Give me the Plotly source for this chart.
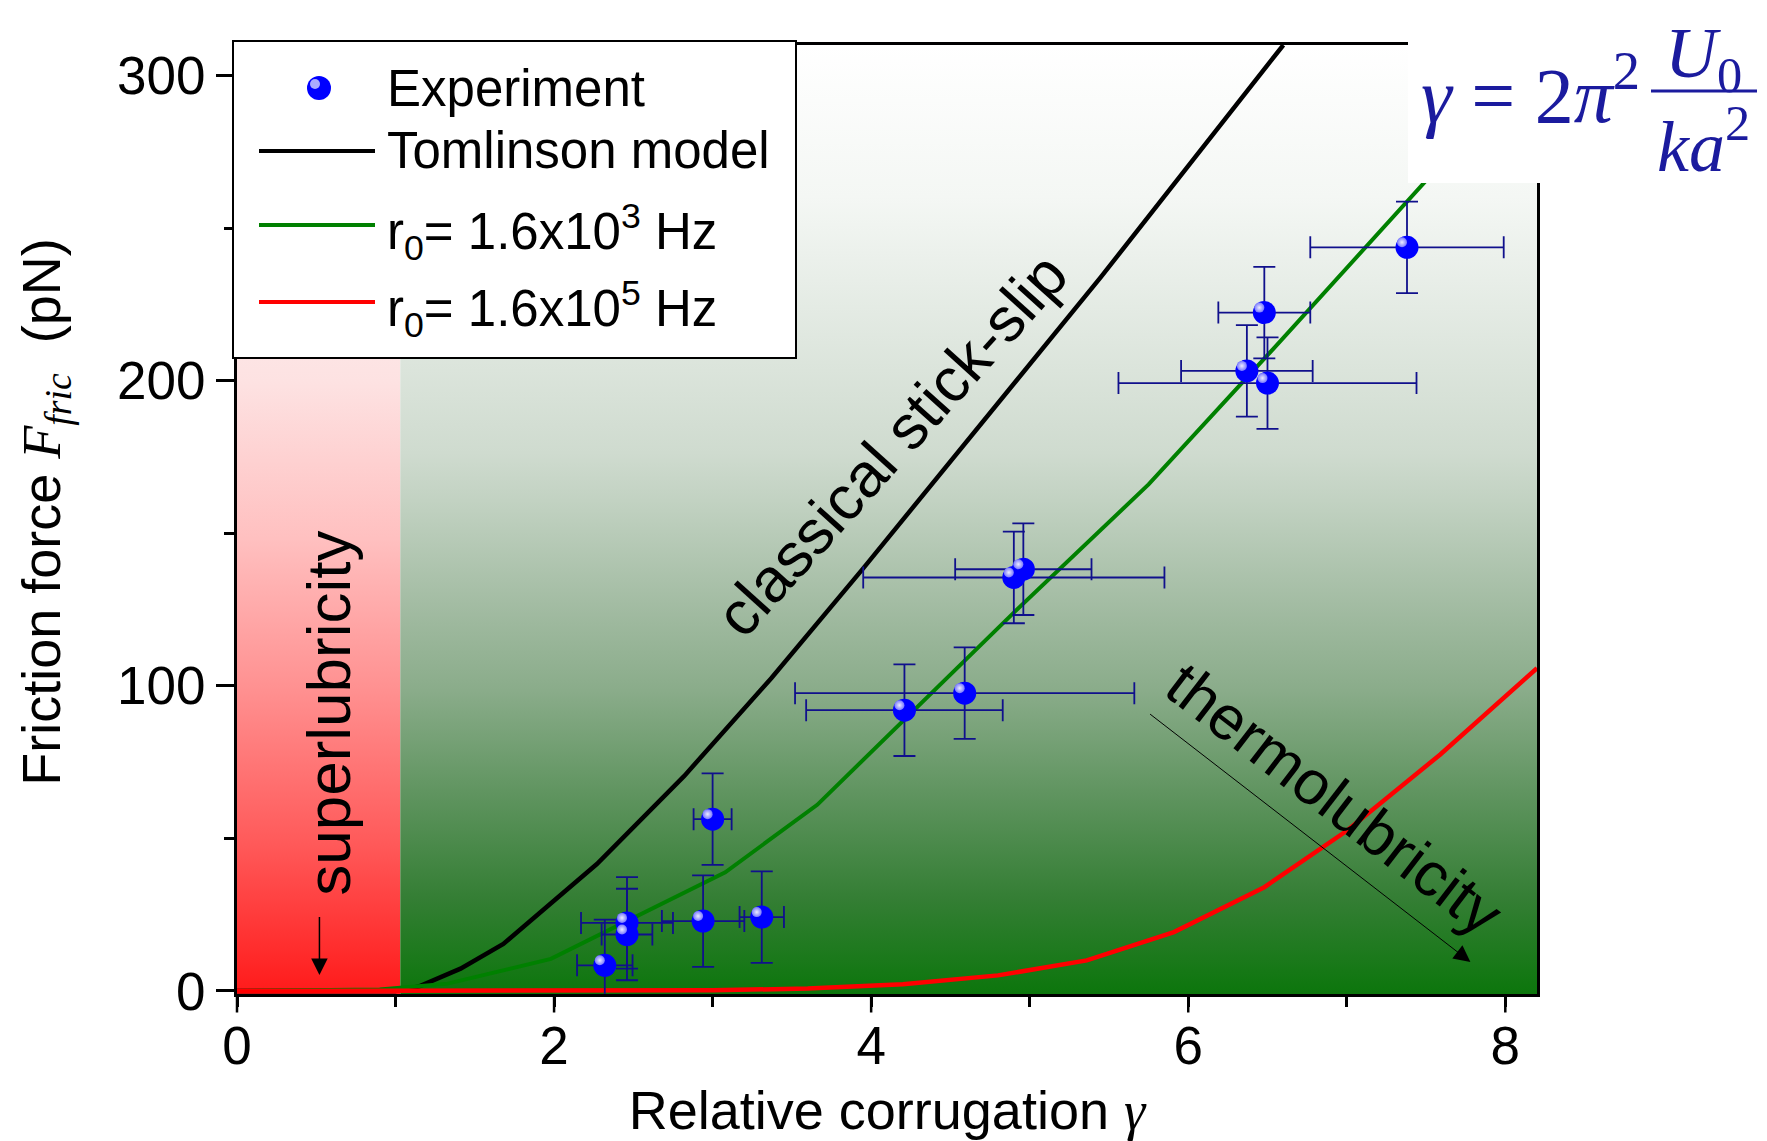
import plotly.graph_objects as go
import numpy as np

# ---------------- data ----------------
exp_gamma = [2.32, 2.46, 2.46, 2.94, 3.00, 3.31, 4.21, 4.59, 4.90, 4.96, 6.37, 6.48, 6.50, 7.38]
exp_force = [8.4, 22.3, 18.5, 22.9, 56.3, 24.2, 92.0, 97.6, 135.5, 138.2, 203.2, 222.3, 199.2, 243.7]
exp_gamma_err = [0.175, 0.29, 0.16, 0.26, 0.12, 0.14, 0.62, 1.07, 0.95, 0.43, 0.415, 0.29, 0.94, 0.61]
exp_force_err = [15, 15, 15, 15, 15, 15, 15, 15, 15, 15, 15, 15, 15, 15]

tom_gamma = [0, 1.0, 1.15, 1.26, 1.41, 1.68, 2.27, 2.82, 3.37, 3.95, 5.45, 6.60]
tom_force = [0, 0, 1.5, 4.0, 7.3, 15.4, 41.6, 70.4, 102.5, 138.5, 234.0, 310.0]

r3_gamma = [0, 0.9, 1.33, 1.98, 3.08, 3.66, 4.9, 5.75, 6.6, 7.49, 7.65]
r3_force = [0, 0.5, 2.4, 10.5, 38.9, 61.0, 124.0, 166.0, 214.0, 265.0, 273.0]

r5_gamma = [0, 3.0, 3.6, 4.2, 4.8, 5.36, 5.91, 6.48, 7.0, 7.59, 8.2]
r5_force = [0, 0.2, 0.8, 2.2, 5.1, 10.0, 19.3, 34.0, 52.5, 77.5, 105.8]

superlub_limit = 1.03          # gamma boundary of superlubricity regime
x_ticks = [0, 2, 4, 6, 8]
y_ticks = [0, 100, 200, 300]
X_RANGE = [0, 8.2]
Y_RANGE = [-1, 310]

# ---------------- layout geometry ----------------
OFF = 8                      # default page margin of the html body
W, H = 1767 - 2 * OFF, 1141 - OFF
ML, MT = 237 - OFF, 45 - OFF
MR = W - (1537 - OFF)
MB = H - (994 - OFF)
PW, PH = W - ML - MR, H - MT - MB
ARIAL = "Arial, Liberation Sans, sans-serif"
SERIF = "Times New Roman, Liberation Serif, serif"
FORMULA_C = "#1b1b9e"
MAJOR_TICK_PX = 17


def px(X):   # screen pixel -> paper x
    return (X - OFF - ML) / PW


def py(Y):   # screen pixel -> paper y
    return (H - MB - (Y - OFF)) / PH


fig = go.Figure()

# background regions with vertical gradients
green_scale = [[0, 'rgb(12,118,12)'], [0.1, 'rgb(52,126,52)'], [0.21, 'rgb(95,148,95)'],
               [0.32, 'rgb(138,172,138)'], [0.4, 'rgb(160,186,160)'], [0.52, 'rgb(194,210,194)'],
               [0.57, 'rgb(207,219,207)'], [0.84, 'rgb(244,247,244)'], [1, 'rgb(255,255,255)']]
red_scale = [[0, 'rgb(255,26,26)'], [0.16, 'rgb(255,90,90)'], [0.32, 'rgb(255,144,144)'],
             [0.48, 'rgb(255,192,192)'], [0.645, 'rgb(253,226,226)'], [1, 'rgb(255,255,255)']]

for (xa, xb, cs) in [(X_RANGE[0], superlub_limit, red_scale), (superlub_limit, X_RANGE[1], green_scale)]:
    fig.add_trace(go.Scatter(
        x=[xa, xb, xb, xa, xa], y=[Y_RANGE[0], Y_RANGE[0], Y_RANGE[1], Y_RANGE[1], Y_RANGE[0]],
        mode='lines', line=dict(width=0), fill='toself',
        fillgradient=dict(type='vertical', colorscale=cs, start=Y_RANGE[0], stop=Y_RANGE[1]),
        hoverinfo='skip', showlegend=False))

# model curves
fig.add_trace(go.Scatter(x=tom_gamma, y=tom_force, mode='lines', name='Tomlinson model',
                         line=dict(color='black', width=4.5), showlegend=False))
fig.add_trace(go.Scatter(x=r3_gamma, y=r3_force, mode='lines', name='r0= 1.6x10^3 Hz',
                         line=dict(color='#008000', width=4), showlegend=False))
fig.add_trace(go.Scatter(x=r5_gamma, y=r5_force, mode='lines', name='r0= 1.6x10^5 Hz',
                         line=dict(color='#ff0000', width=4.5), showlegend=False))

# experiment
fig.add_trace(go.Scatter(
    x=exp_gamma, y=exp_force, mode='markers', name='Experiment',
    marker=dict(size=23, color='#0000ff', line=dict(width=0)),
    error_x=dict(type='data', array=exp_gamma_err, color='#10108c', thickness=1.8, width=11),
    error_y=dict(type='data', array=exp_force_err, color='#10108c', thickness=1.8, width=11),
    showlegend=False))
# sphere highlights (offset a few pixels up-left)
dxp = (X_RANGE[1] - X_RANGE[0]) / PW
dyp = (Y_RANGE[1] - Y_RANGE[0]) / PH
fig.add_trace(go.Scatter(
    x=np.array(exp_gamma) - 5 * dxp, y=np.array(exp_force) + 5 * dyp, mode='markers',
    marker=dict(size=10, color='rgb(120,120,255)', line=dict(width=0),
                gradient=dict(type='radial', color='rgb(235,235,255)')),
    hoverinfo='skip', showlegend=False))

shapes = []
annotations = []

# long major tick marks on the x axis (labels sit close to the axis as in the original)
for t in x_ticks:
    xp = (t - X_RANGE[0]) / (X_RANGE[1] - X_RANGE[0])
    shapes.append(dict(type='line', xref='paper', yref='paper', x0=xp, x1=xp, y0=-1.0 / PH,
                       y1=-(1.5 + MAJOR_TICK_PX) / PH, line=dict(color='black', width=2.5)))

# formula white box
shapes.append(dict(type='rect', xref='paper', yref='paper', x0=px(1408), x1=px(1780),
                   y0=py(183), y1=py(-10), fillcolor='white', line=dict(width=0), layer='above'))
shapes.append(dict(type='line', xref='paper', yref='paper', x0=px(1651), x1=px(1757),
                   y0=py(91), y1=py(91), line=dict(color=FORMULA_C, width=3), layer='above'))
annotations.append(dict(xref='paper', yref='paper', x=px(1642), y=py(90), xanchor='right', yanchor='middle',
                        text='<i>γ</i> = 2<i>π</i><sup>2</sup>', showarrow=False,
                        font=dict(family=SERIF, size=78, color=FORMULA_C)))
annotations.append(dict(xref='paper', yref='paper', x=px(1703), y=py(100), xanchor='center', yanchor='middle',
                        text='<i>U</i><sub>0</sub><br><i>ka</i><sup>2</sup>', showarrow=False, align='center',
                        font=dict(family=SERIF, size=72, color=FORMULA_C)))

# manual legend
shapes.append(dict(type='rect', xref='paper', yref='paper', x0=px(233), x1=px(796),
                   y0=py(358), y1=py(41), fillcolor='white', line=dict(color='black', width=2), layer='above'))
shapes.append(dict(type='circle', xref='paper', yref='paper', x0=px(307), x1=px(331),
                   y0=py(100), y1=py(76), fillcolor='#0000ff', line=dict(width=0), layer='above'))
shapes.append(dict(type='circle', xref='paper', yref='paper', x0=px(310), x1=px(320),
                   y0=py(89), y1=py(79), fillcolor='rgb(170,170,255)', line=dict(width=0), layer='above'))
for yy, col in [(151, 'black'), (225, '#008000'), (302, '#ff0000')]:
    shapes.append(dict(type='line', xref='paper', yref='paper', x0=px(259), x1=px(375),
                       y0=py(yy), y1=py(yy), line=dict(color=col, width=4), layer='above'))
leg_texts = [('Experiment', 88), ('Tomlinson model', 151),
             ('r<sub>0</sub>= 1.6x10<sup>3</sup> Hz', 232), ('r<sub>0</sub>= 1.6x10<sup>5</sup> Hz', 309)]
for t, yy in leg_texts:
    annotations.append(dict(xref='paper', yref='paper', x=px(385), y=py(yy), xanchor='left', yanchor='middle',
                            text=t, showarrow=False, font=dict(family=ARIAL, size=51, color='black')))

# regime labels
annotations.append(dict(x=4.13, y=179, text='classical stick-slip', textangle=-48, showarrow=False,
                        font=dict(family=ARIAL, size=62, color='black')))
annotations.append(dict(x=6.92, y=63, text='thermolubricity', textangle=37.5, showarrow=False,
                        font=dict(family=ARIAL, size=62, color='black')))
annotations.append(dict(x=0.577, y=91, text='superlubricity', textangle=-90, showarrow=False,
                        font=dict(family=ARIAL, size=62, color='black')))
# arrows
annotations.append(dict(x=0.52, y=5.2, ax=0.52, ay=24.7, axref='x', ayref='y', text='', showarrow=True,
                        arrowhead=2, arrowsize=2.2, arrowwidth=1.5, arrowcolor='black'))
annotations.append(dict(x=7.78, y=9.5, ax=5.75, ay=91.1, axref='x', ayref='y', text='', showarrow=True,
                        arrowhead=2, arrowsize=3.3, arrowwidth=1, arrowcolor='black'))

axis_common = dict(showline=True, linecolor='black', linewidth=3, mirror=True, showgrid=False,
                   zeroline=False, ticks='outside', tickwidth=2.5, tickcolor='black',
                   tickfont=dict(family=ARIAL, size=53, color='black'), automargin=True)

fig.update_layout(
    width=W, height=H, margin=dict(l=ML, r=MR, t=MT, b=MB, autoexpand=False),
    paper_bgcolor='white', plot_bgcolor='white', showlegend=False,
    shapes=shapes, annotations=annotations,
    xaxis=dict(range=X_RANGE, tickvals=x_ticks, **axis_common, ticklen=3,
               minor=dict(dtick=1, tick0=0, ticks='outside', ticklen=10, tickwidth=2.5, tickcolor='black'),
               title=dict(text='Relative corrugation <span style="font-family:Liberation Serif"><i>γ</i></span>',
                          font=dict(family=ARIAL, size=54, color='black'), standoff=30)),
    yaxis=dict(range=Y_RANGE, tickvals=y_ticks, **axis_common, ticklen=18,
               minor=dict(dtick=50, tick0=0, ticks='outside', ticklen=10, tickwidth=2.5, tickcolor='black'),
               title=dict(text='&nbsp;Friction force <span style="font-family:Liberation Serif"><i>F</i><sub><i>fric</i></sub></span>&nbsp; (pN)',
                          font=dict(family=ARIAL, size=54, color='black'), standoff=40)),
)

fig.write_html("out.html")
